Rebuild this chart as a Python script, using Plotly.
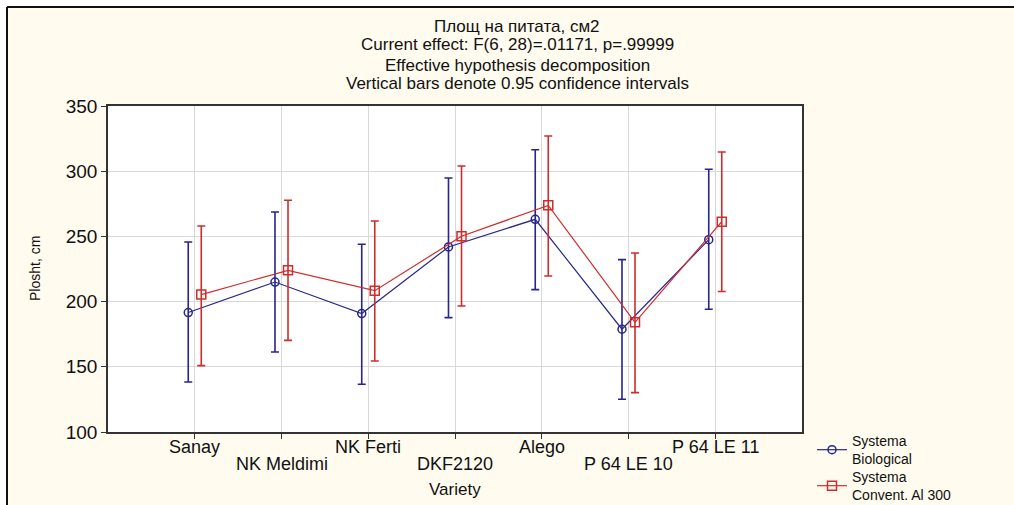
import plotly.graph_objects as go

# ---- data ----
categories = ["Sanay", "NK Meldimi", "NK Ferti", "DKF2120", "Alego", "P 64 LE 10", "P 64 LE 11"]

bio_mean = [191.6, 215.0, 190.8, 241.9, 263.1, 178.8, 247.5]
bio_low = [138.3, 161.3, 136.6, 187.7, 209.2, 125.1, 194.1]
bio_high = [245.7, 268.7, 244.0, 294.8, 316.5, 232.2, 301.5]

conv_mean = [205.4, 224.0, 208.4, 250.1, 273.8, 184.1, 261.3]
conv_low = [150.9, 170.3, 154.4, 196.6, 219.6, 130.2, 207.7]
conv_high = [258.0, 277.7, 261.8, 304.0, 327.0, 237.3, 314.7]

series_names = ["Systema<br>Biological", "Systema<br>Convent. Al 300"]
title_lines = [
    "Площ на питата, см2",
    "Current effect: F(6, 28)=.01171, p=.99999",
    "Effective hypothesis decomposition",
    "Vertical bars denote 0.95 confidence intervals",
]
y_ticks = [100, 150, 200, 250, 300, 350]
x_title = "Variety"
y_title = "Plosht, cm"

# ---- styling ----
BLUE = "#26268C"
RED = "#D02C2C"
FONT = "Liberation Sans, Arial, sans-serif"
W, H = 1014, 505
L, R, T, B = 108, 802, 106, 432
OFF = 0.075

def px_x(p):
    return (p - L) / (R - L)

def px_y(p):
    return (B - p) / (B - T)

idx = list(range(len(categories)))

fig = go.Figure()

def add_series(mean, low, high, dx, color, symbol, name, msize, legend):
    fig.add_trace(go.Scatter(
        x=[i + dx for i in idx],
        y=mean,
        mode="lines+markers",
        name=name,
        legend=legend,
        line=dict(color=color, width=1.2),
        marker=dict(symbol=symbol, size=msize, color=color,
                    line=dict(color=color, width=1.5)),
        error_y=dict(type="data", symmetric=False,
                     array=[h - m for h, m in zip(high, mean)],
                     arrayminus=[m - l for m, l in zip(mean, low)],
                     color=color, thickness=1.6, width=4),
    ))

add_series(bio_mean, bio_low, bio_high, -OFF, BLUE, "circle-open", series_names[0], 8, "legend")
add_series(conv_mean, conv_low, conv_high, OFF, RED, "square-open", series_names[1], 9, "legend2")

annotations = []
# title lines
for k, (line, yc) in enumerate(zip(title_lines, [26, 45, 65, 84])):
    annotations.append(dict(
        text=line, xref="paper", yref="paper",
        x=px_x(517), y=px_y(yc), xanchor="center", yanchor="middle",
        showarrow=False, font=dict(family=FONT, size=17, color="#111")))
# x tick labels (staggered)
for i, c in enumerate(categories):
    annotations.append(dict(
        text=c, xref="x", yref="paper", x=i, y=px_y(447 if i % 2 == 0 else 464),
        xanchor="center", yanchor="middle", showarrow=False,
        font=dict(family=FONT, size=18, color="#111")))
# axis titles
annotations.append(dict(
    text=x_title, xref="paper", yref="paper", x=px_x(455), y=px_y(489),
    xanchor="center", yanchor="middle", showarrow=False,
    font=dict(family=FONT, size=17, color="#111")))
annotations.append(dict(
    text=y_title, xref="paper", yref="paper", x=px_x(35), y=0.5,
    xanchor="center", yanchor="middle", showarrow=False, textangle=-90,
    font=dict(family=FONT, size=14, color="#111")))

shapes = [
    # white strips outside the outer frame
    dict(type="rect", xref="paper", yref="paper", x0=px_x(0), x1=px_x(7), y0=px_y(H), y1=px_y(0),
         fillcolor="white", line=dict(width=0), layer="below"),
    dict(type="rect", xref="paper", yref="paper", x0=px_x(0), x1=px_x(W), y0=px_y(7), y1=px_y(0),
         fillcolor="white", line=dict(width=0), layer="below"),
    # outer frame lines (left and top)
    dict(type="line", xref="paper", yref="paper", x0=px_x(7), x1=px_x(7), y0=px_y(H), y1=px_y(7),
         line=dict(color="#111", width=2)),
    dict(type="line", xref="paper", yref="paper", x0=px_x(7), x1=px_x(W), y0=px_y(7), y1=px_y(7),
         line=dict(color="#111", width=2)),
]

legend_common = dict(xanchor="left", yanchor="top", bgcolor="rgba(0,0,0,0)",
                     font=dict(family=FONT, size=14, color="#111"),
                     tracegroupgap=0, itemwidth=30)

fig.update_layout(
    width=W, height=H,
    margin=dict(l=L, r=W - R, t=T, b=H - B, pad=0, autoexpand=False),
    paper_bgcolor="#FFFBEF",
    plot_bgcolor="white",
    font=dict(family=FONT, size=15, color="#111"),
    showlegend=True,
    legend=dict(x=px_x(812), y=px_y(425), **legend_common),
    legend2=dict(x=px_x(812), y=px_y(461), **legend_common),
    annotations=annotations,
    shapes=shapes,
)

fig.update_xaxes(
    range=[-1, len(categories)], tickmode="array", tickvals=idx, ticktext=[""] * len(idx),
    showticklabels=False, ticks="outside", ticklen=5, tickcolor="#333",
    showgrid=True, gridcolor="#D8D8D8", gridwidth=1,
    showline=True, linecolor="#333", linewidth=1.5, mirror=True, zeroline=False,
    automargin=False,
)
fig.update_yaxes(
    range=[100, 350], tickmode="array", tickvals=y_ticks,
    ticks="outside", ticklen=5, tickcolor="#333",
    tickfont=dict(family=FONT, size=19, color="#111"),
    showgrid=True, gridcolor="#D8D8D8", gridwidth=1,
    showline=True, linecolor="#333", linewidth=1.5, mirror=True, zeroline=False,
    automargin=False,
)

fig.write_html(
    "out.html",
    config={"displayModeBar": False},
    post_script="document.body.style.margin='0';document.body.style.overflow='hidden';",
)
